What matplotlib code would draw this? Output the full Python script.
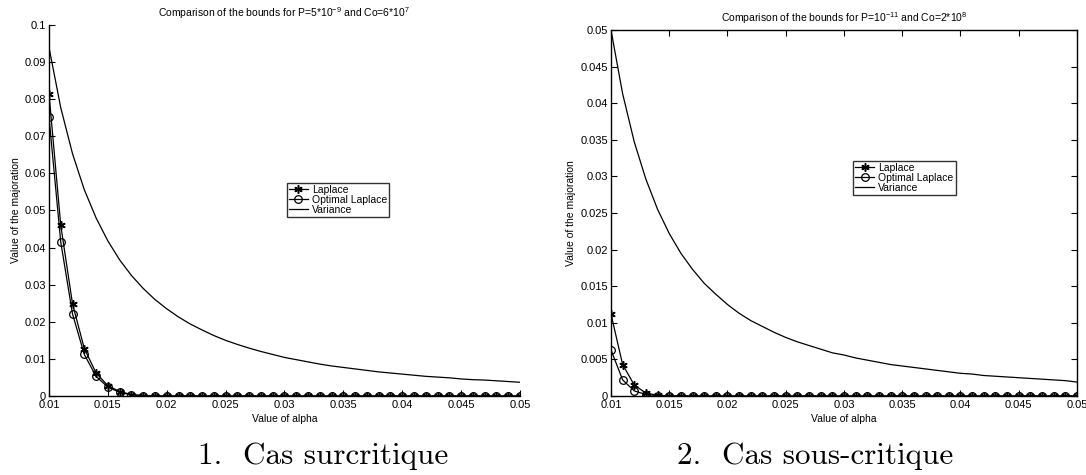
import matplotlib.pyplot as plt
import numpy as np

plt.rcParams['font.family'] = ['Liberation Sans', 'DejaVu Sans']
plt.rcParams['mathtext.default'] = 'regular'

# alpha values, one every 0.001
alpha = np.round(np.arange(0.010, 0.0505, 0.001), 3)

# case 1: surcritique
lap1 = [0.0815, 0.0460, 0.0248, 0.0128, 0.0062, 0.0028, 0.0012, 0.0004, 0.0001] + [0.0] * 32
opt1 = [0.0752, 0.0415, 0.0221, 0.0112, 0.0053, 0.0024, 0.0010, 0.0003, 0.0001] + [0.0] * 32
var1 = [0.0940, 0.0777, 0.0653, 0.0556, 0.0480, 0.0418, 0.0367, 0.0325, 0.0290, 0.0260,
        0.0235, 0.0213, 0.0194, 0.0178, 0.0163, 0.0150, 0.0139, 0.0129, 0.0120, 0.0112,
        0.0104, 0.0098, 0.0092, 0.0086, 0.0081, 0.0077, 0.0073, 0.0069, 0.0065, 0.0062,
        0.0059, 0.0056, 0.0053, 0.0051, 0.0049, 0.0046, 0.0044, 0.0043, 0.0041, 0.0039,
        0.0037]

# case 2: sous-critique
lap2 = [0.0112, 0.0043, 0.0015, 0.0004, 0.0001] + [0.0] * 36
opt2 = [0.0063, 0.0022, 0.0007, 0.0002, 0.00005] + [0.0] * 36
var2 = [0.0500, 0.0413, 0.0347, 0.0296, 0.0255, 0.0222, 0.0195, 0.0173, 0.0154, 0.0139,
        0.0125, 0.0113, 0.0103, 0.0095, 0.0087, 0.0080, 0.0074, 0.0069, 0.0064, 0.0059,
        0.0056, 0.0052, 0.0049, 0.0046, 0.0043, 0.0041, 0.0039, 0.0037, 0.0035, 0.0033,
        0.0031, 0.0030, 0.0028, 0.0027, 0.0026, 0.0025, 0.0024, 0.0023, 0.0022, 0.0021,
        0.0019]

titles = [r'Comparison of the bounds for P=5*10$^{-9}$ and Co=6*10$^{7}$',
          r'Comparison of the bounds for P=10$^{-11}$ and Co=2*10$^{8}$']
captions = ['1.  Cas surcritique', '2.  Cas sous-critique']
xticks = [0.01, 0.015, 0.02, 0.025, 0.03, 0.035, 0.04, 0.045, 0.05]
xticklabels = ['0.01', '0.015', '0.02', '0.025', '0.03', '0.035', '0.04', '0.045', '0.05']
yticks1 = [0, 0.01, 0.02, 0.03, 0.04, 0.05, 0.06, 0.07, 0.08, 0.09, 0.1]
yticklabels1 = ['0', '0.01', '0.02', '0.03', '0.04', '0.05', '0.06', '0.07', '0.08', '0.09', '0.1']
yticks2 = [0, 0.005, 0.01, 0.015, 0.02, 0.025, 0.03, 0.035, 0.04, 0.045, 0.05]
yticklabels2 = ['0', '0.005', '0.01', '0.015', '0.02', '0.025', '0.03', '0.035', '0.04', '0.045', '0.05']

fig = plt.figure(figsize=(10.86, 4.75), dpi=100)
ax1 = fig.add_axes([0.0451, 0.1663, 0.4337, 0.7811])
ax2 = fig.add_axes([0.5626, 0.1663, 0.4291, 0.7705])

panels = [
    (ax1, lap1, opt1, var1, yticks1, yticklabels1, 0.1, (0.505, 0.574), 0.2974),
    (ax2, lap2, opt2, var2, yticks2, yticklabels2, 0.05, (0.52, 0.642), 0.7505),
]

for i, (ax, lap, opt, var, yt, ytl, ymax, legpos, capx) in enumerate(panels):
    ax.plot(alpha, lap, color='black', lw=0.9, marker=(6, 2, 0), ms=6, mew=1.1,
            label='Laplace')
    ax.plot(alpha, opt, color='black', lw=0.9, marker='o', ms=5.5, mfc='none',
            mew=0.9, label='Optimal Laplace')
    ax.plot(alpha, var, color='black', lw=0.9, label='Variance')
    ax.set_xlim(0.01, 0.05)
    ax.set_ylim(0, ymax)
    ax.set_xticks(xticks)
    ax.set_xticklabels(xticklabels)
    ax.set_yticks(yt)
    ax.set_yticklabels(ytl)
    ax.tick_params(direction='in', length=4, width=0.8, labelsize=8, pad=2)
    ax.tick_params(axis='x', pad=3)
    ax.set_xlabel('Value of alpha', fontsize=7.5, labelpad=3)
    ax.set_ylabel('Value of the majoration', fontsize=7.5, labelpad=3)
    ax.set_title(titles[i], fontsize=7.5, pad=6)
    for s in ax.spines.values():
        s.set_linewidth(1.0)
    leg = ax.legend(loc='upper left', bbox_to_anchor=legpos, fontsize=7.5,
                    frameon=True, fancybox=False, edgecolor='black',
                    handlelength=1.8, handletextpad=0.4, labelspacing=0.0,
                    borderpad=0.2, borderaxespad=0)
    leg.get_frame().set_linewidth(1.0)
    fig.text(capx, 0.0232, captions[i], family='cmr10', fontsize=22.4,
             ha='center', va='baseline')

ax1.spines['top'].set_visible(False)
ax1.spines['right'].set_visible(False)
ax2.tick_params(top=True, right=True)

fig.savefig('out.png', dpi=100)
